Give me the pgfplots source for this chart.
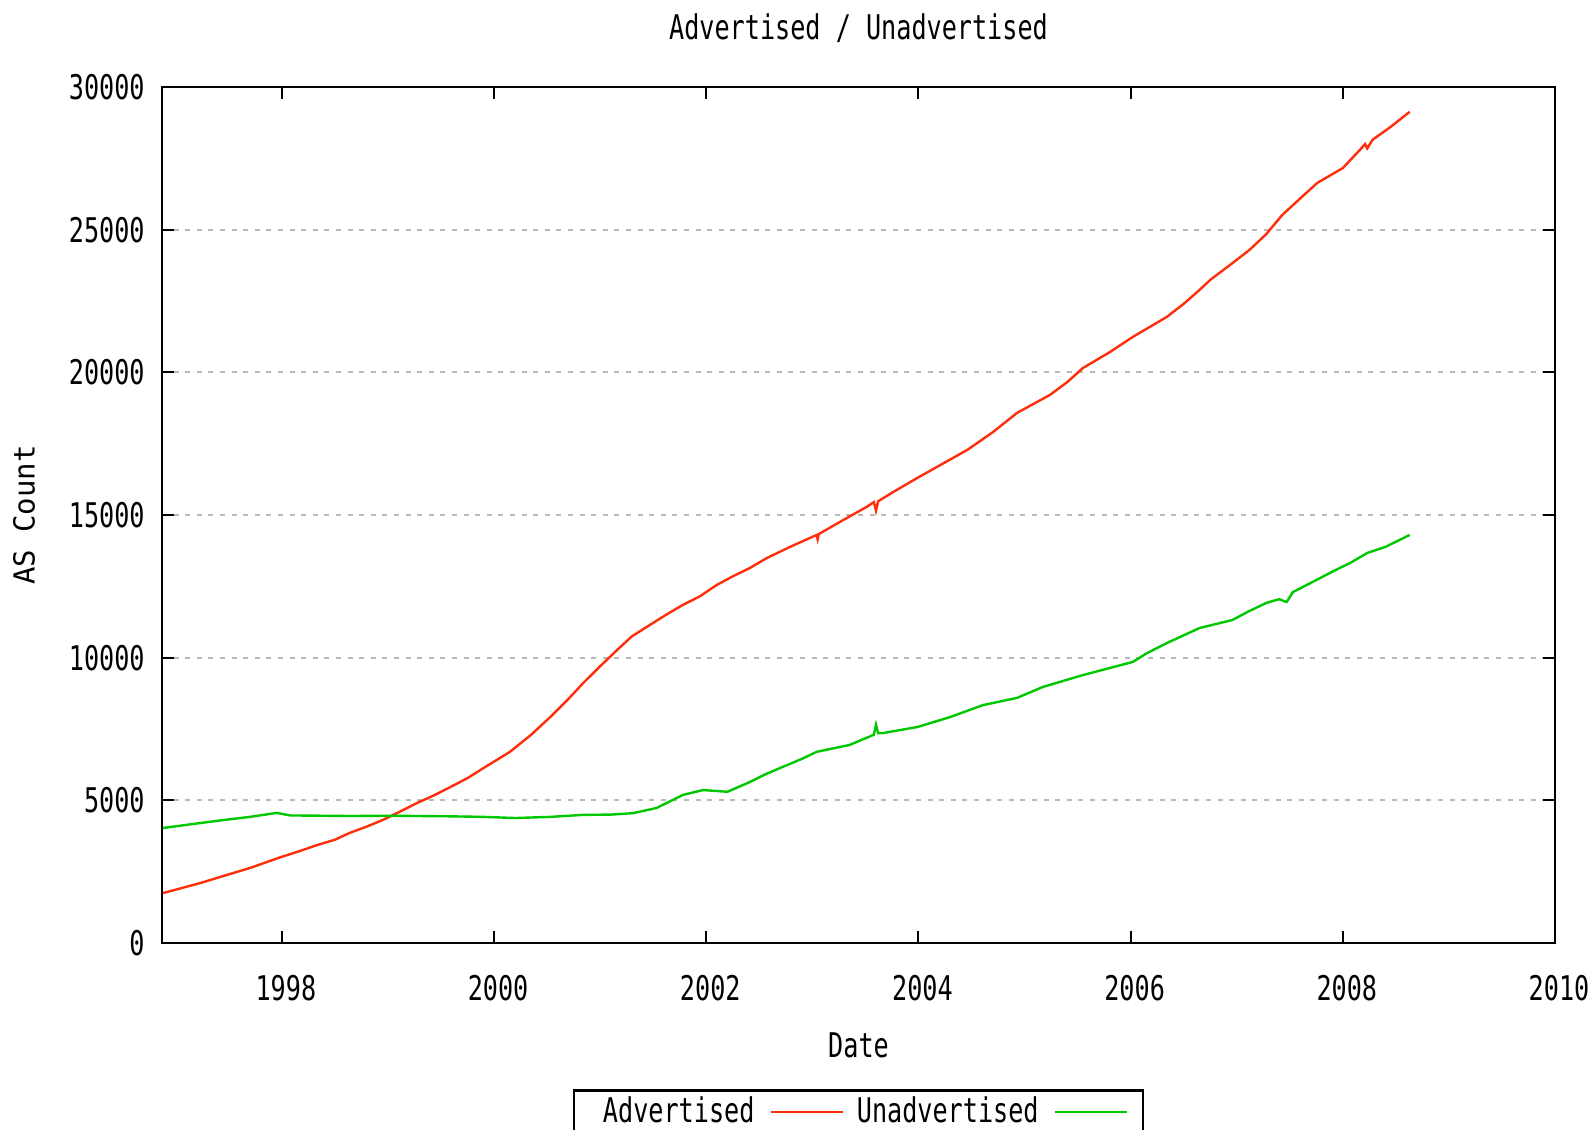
\documentclass[border=0pt]{standalone}
\usepackage{fontspec}
\setmainfont{DejaVu Sans Mono}[FakeStretch=0.74]
\newfontfamily\ylfont{DejaVu Sans Mono}
\usepackage{pgfplots}
\pgfplotsset{compat=1.18}
\definecolor{gpred}{RGB}{255,45,10}
\definecolor{gpgreen}{RGB}{0,200,0}
\definecolor{gpgrid}{RGB}{185,185,185}
\begin{document}
\begin{tikzpicture}
\path[use as bounding box] (-81bp,-93.5bp) rectangle (715.5bp,471.5bp);
\clip (-81bp,-93.5bp) rectangle (715.5bp,471.5bp);
\fontsize{17bp}{20bp}\selectfont
\begin{axis}[
  at={(0,0)}, anchor=south west,
  scale only axis, width=696.5bp, height=428bp,
  xmin=1996.87, xmax=2010, ymin=0, ymax=30000,
  xtick={1998,2000,...,2010},
  ytick={0,5000,...,30000},
  scaled y ticks=false,
  /pgf/number format/.cd, 1000 sep={}, assume math mode=true, /pgfplots/.cd,
  axis line style={line width=1bp, black},
  tick style={line width=1bp, black},
  major tick length=6bp,
  tick align=inside,
  ymajorgrids,
  major grid style={gpgrid, line width=1bp, dash pattern=on 2.5bp off 3.3bp},
  ticklabel style={font=\fontsize{17bp}{20bp}\selectfont},
  xticklabel style={anchor=center, inner sep=0pt, yshift=-22.5bp, xshift=2bp},
  yticklabel style={anchor=east, inner sep=0pt, xshift=-8.5bp},
  title={Advertised / Unadvertised},
  title style={at={(axis description cs:0.5,1)}, anchor=center, yshift=23.25bp, inner sep=0pt, font=\fontsize{17bp}{20bp}\selectfont},
  xlabel={Date},
  xlabel style={at={(axis description cs:0.5,0)}, anchor=center, yshift=-51bp, inner sep=0pt, font=\fontsize{17bp}{20bp}\selectfont},
  ylabel={AS Count},
  ylabel style={at={(axis description cs:-0.0991,0.5)}, anchor=center, rotate=0, inner sep=0pt, font=\ylfont\fontsize{14.5bp}{17bp}\selectfont},
  legend plot pos=right,
  legend columns=2,
  legend image code/.code={\draw[#1] (0bp,0bp) -- (36bp,0bp);},
  legend style={at={(axis description cs:0.5,-0.171)}, anchor=north,
    draw=black, line width=1.2bp, inner xsep=7.5bp, inner ysep=3bp,
    font=\fontsize{17bp}{20bp}\selectfont,
    nodes={inner sep=0pt},
    /tikz/every odd column/.append style={column sep=7.5bp},
    /tikz/every even column/.append style={column sep=6.5bp}},
]
\addplot[gpred, line width=1.2bp] coordinates {
(1996.88,1750) (1997.05,1920) (1997.23,2100) (1997.45,2350) (1997.70,2630)
(1997.99,3010) (1998.15,3200) (1998.33,3430) (1998.50,3620) (1998.64,3860)
(1998.80,4080) (1998.95,4310) (1999.10,4580) (1999.27,4900) (1999.42,5150)
(1999.58,5450) (1999.75,5780) (1999.90,6130) (2000.15,6700) (2000.35,7300)
(2000.53,7920) (2000.70,8550) (2000.84,9110) (2001.00,9700) (2001.16,10270)
(2001.30,10750) (2001.47,11150) (2001.62,11500) (2001.78,11850) (2001.94,12150)
(2002.10,12550) (2002.25,12850) (2002.41,13140) (2002.57,13490) (2002.80,13900)
(2003.04,14300) (2003.05,14150) (2003.06,14330) (2003.28,14800) (2003.51,15280)
(2003.58,15450) (2003.60,15150) (2003.62,15480) (2003.75,15780) (2003.99,16300)
(2004.22,16780) (2004.46,17280) (2004.70,17900) (2004.93,18580) (2005.24,19210)
(2005.40,19650) (2005.55,20150) (2005.80,20700) (2006.02,21240) (2006.34,21940)
(2006.50,22400) (2006.65,22890) (2006.75,23240) (2006.95,23800) (2007.12,24290)
(2007.28,24850) (2007.43,25520) (2007.60,26100) (2007.76,26640) (2008.00,27160)
(2008.16,27790) (2008.21,28000) (2008.23,27850) (2008.28,28150) (2008.45,28600)
(2008.63,29130)
};
\addlegendentry{\hspace*{7bp}Advertised}
\addplot[gpgreen, line width=1.2bp] coordinates {
(1996.88,4030) (1997.16,4170) (1997.45,4310) (1997.70,4420) (1997.95,4560)
(1998.08,4470) (1998.40,4460) (1998.64,4450) (1999.00,4460) (1999.30,4450)
(1999.58,4440) (1999.90,4420) (2000.20,4380) (2000.53,4420) (2000.84,4490)
(2001.10,4500) (2001.31,4550) (2001.53,4730) (2001.65,4950) (2001.78,5190)
(2001.97,5360) (2002.20,5300) (2002.41,5640) (2002.55,5900) (2002.72,6170)
(2002.90,6450) (2003.04,6700) (2003.35,6940) (2003.58,7300) (2003.60,7650)
(2003.62,7350) (2003.67,7360) (2003.99,7570) (2004.30,7920) (2004.61,8340)
(2004.93,8590) (2005.17,8970) (2005.55,9390) (2006.02,9850) (2006.15,10150)
(2006.34,10510) (2006.65,11040) (2006.96,11320) (2007.10,11600) (2007.28,11920)
(2007.40,12050) (2007.47,11950) (2007.53,12300) (2007.75,12720) (2007.92,13050)
(2008.07,13320) (2008.23,13670) (2008.40,13880) (2008.63,14300)
};
\addlegendentry{Unadvertised}
\end{axis}
\end{tikzpicture}
\end{document}
